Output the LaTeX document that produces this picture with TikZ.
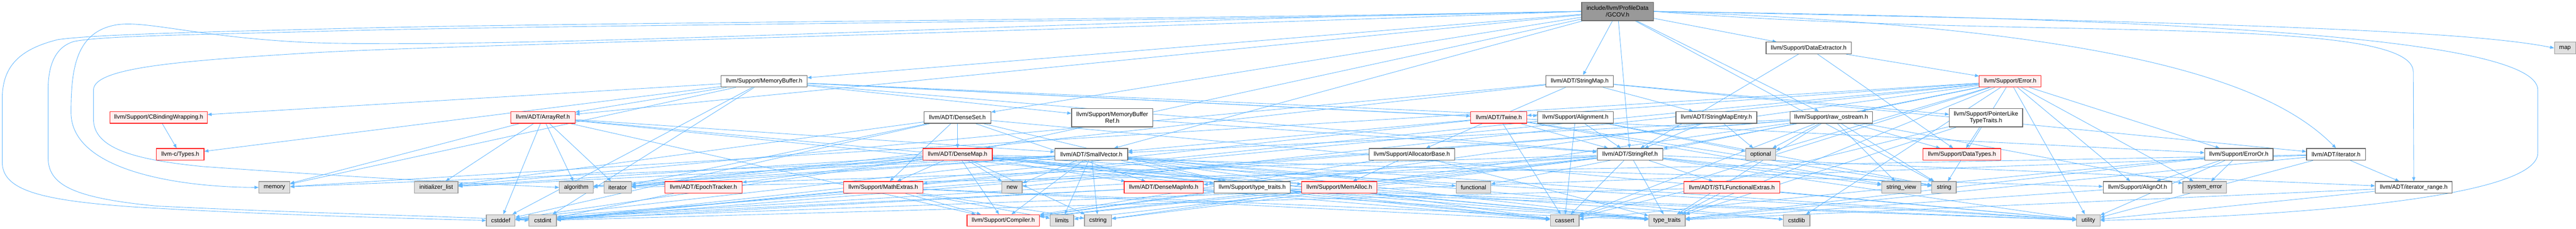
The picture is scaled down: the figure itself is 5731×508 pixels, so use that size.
\documentclass[tikz,border=0pt]{standalone}
\usepackage{fontspec}
\setmainfont{Liberation Sans}
\usetikzlibrary{arrows.meta}
\definecolor{edgec}{HTML}{63B8FF}
\definecolor{redb}{HTML}{FF2020}
\definecolor{redf}{HTML}{FFF0F0}
\definecolor{grayf}{HTML}{E0E0E0}
\definecolor{grayb}{HTML}{999999}
\definecolor{whiteb}{HTML}{666666}
\definecolor{rootf}{HTML}{999999}
\pgfdeclarelayer{back}
\pgfdeclarelayer{bg}
\pgfsetlayers{back,bg,main}
\begin{document}
\begin{tikzpicture}[x=1pt,y=-1pt,
  nbox/.style={rectangle, draw, line width=1.4pt, inner sep=0pt, minimum height=26pt,
    font=\fontsize{13.2}{15}\selectfont, align=center},
  redn/.style={nbox, draw=redb, fill=redf},
  whn/.style={nbox, draw=whiteb, fill=white},
  grn/.style={nbox, draw=grayb, fill=grayf},
  rootn/.style={nbox, draw=whiteb, fill=rootf, minimum height=41pt},
  dep/.style={draw=edgec, line width=1pt, -{Triangle[length=9pt,width=7pt]}}]
\begin{pgfonlayer}{back}
\fill[white] (0,0) rectangle (5731,508);
\end{pgfonlayer}
\useasboundingbox (0,0) rectangle (5731,508);
% row 0
\node[rootn, minimum width=160pt] (root) at (3598.7,25.3) {include/llvm/ProfileData\\/GCOV.h};
% row 1
\node[whn, minimum width=190pt] (dext) at (4024,106.8) {llvm/Support/DataExtractor.h};
\node[grn, minimum width=47pt] (stdmap) at (5706.5,106.8) {map};
% row 2
\node[whn, minimum width=191pt] (mbuf) at (1700,180.5) {llvm/Support/MemoryBuffer.h};
\node[whn, minimum width=150pt] (smap) at (3514.5,180.5) {llvm/ADT/StringMap.h};
\node[redn, minimum width=137pt] (err) at (4472,180.5) {llvm/Support/Error.h};
% row 3
\node[redn, minimum width=216pt] (cbw) at (353,261) {llvm/Support/CBindingWrapping.h};
\node[redn, minimum width=143pt] (aref) at (1208,261) {llvm/ADT/ArrayRef.h};
\node[whn, minimum width=149pt] (dset) at (2130,261) {llvm/ADT/DenseSet.h};
\node[whn, minimum width=181pt, minimum height=41pt] (mbref) at (2474.5,261.5) {llvm/Support/MemoryBuffer\\Ref.h};
\node[redn, minimum width=125pt] (twine) at (3334.6,261) {llvm/ADT/Twine.h};
\node[whn, minimum width=168pt] (align) at (3505,261) {llvm/Support/Alignment.h};
\node[whn, minimum width=180pt] (smentry) at (3818.5,261) {llvm/ADT/StringMapEntry.h};
\node[whn, minimum width=184pt] (raw) at (4074,261) {llvm/Support/raw\_ostream.h};
\node[whn, minimum width=163pt, minimum height=41pt] (plt) at (4418.3,261.5) {llvm/Support/PointerLike\\TypeTraits.h};
% row 4
\node[redn, minimum width=106pt] (types) at (401,343) {llvm-c/Types.h};
\node[redn, minimum width=154pt] (dmap) at (2130.5,343) {llvm/ADT/DenseMap.h};
\node[whn, minimum width=162pt] (svec) at (2428,343) {llvm/ADT/SmallVector.h};
\node[whn, minimum width=190pt] (alloc) at (3141,343) {llvm/Support/AllocatorBase.h};
\node[whn, minimum width=146pt] (sref) at (3626.5,343) {llvm/ADT/StringRef.h};
\node[grn, minimum width=66pt] (stdopt) at (3917,343) {optional};
\node[redn, minimum width=173pt] (dtypes) at (4365,343) {llvm/Support/DataTypes.h};
\node[whn, minimum width=152pt] (erroror) at (4981,343) {llvm/Support/ErrorOr.h};
\node[whn, minimum width=131pt] (iter) at (5197,343) {llvm/ADT/iterator.h};
% row 5
\node[grn, minimum width=69pt] (stdmem) at (610.5,416.5) {memory};
\node[grn, minimum width=97pt] (stdinit) at (970.5,416.5) {initializer\_list};
\node[grn, minimum width=75pt] (stdalg) at (1282,416.5) {algorithm};
\node[grn, minimum width=61pt] (stditer) at (1374,416.5) {iterator};
\node[redn, minimum width=172pt] (epoch) at (1565,416.5) {llvm/ADT/EpochTracker.h};
\node[redn, minimum width=176pt] (mathx) at (1965,416.5) {llvm/Support/MathExtras.h};
\node[grn, minimum width=45pt] (stdnew) at (2251.5,416.5) {new};
\node[redn, minimum width=176pt] (dminfo) at (2589,416.5) {llvm/ADT/DenseMapInfo.h};
\node[whn, minimum width=170pt] (stypetr) at (2786,416.5) {llvm/Support/type\_traits.h};
\node[redn, minimum width=167pt] (memalloc) at (2979.7,416.5) {llvm/Support/MemAlloc.h};
\node[grn, minimum width=77pt] (stdfunc) at (3278,416.5) {functional};
\node[redn, minimum width=213pt] (stlfe) at (3853,416.5) {llvm/ADT/STLFunctionalExtras.h};
\node[grn, minimum width=87pt] (stdsv) at (4230,416.5) {string\_view};
\node[grn, minimum width=54pt] (stdstr) at (4325,416.5) {string};
\node[whn, minimum width=153pt] (alignof) at (4755.6,416.5) {llvm/Support/AlignOf.h};
\node[grn, minimum width=97pt] (stdse) at (4905,416.5) {system\_error};
\node[whn, minimum width=171pt] (irange) at (5370,416.5) {llvm/ADT/iterator\_range.h};
% row 6
\node[grn, minimum width=64pt] (stdcdef) at (1114,490) {cstddef};
\node[grn, minimum width=61pt] (stdcint) at (1207.5,490) {cstdint};
\node[redn, minimum width=161pt] (compiler) at (2232,490) {llvm/Support/Compiler.h};
\node[grn, minimum width=52pt] (stdlim) at (2362.7,490) {limits};
\node[grn, minimum width=60pt] (stdcstr) at (2442.6,490) {cstring};
\node[grn, minimum width=64pt] (stdcas) at (3481,490) {cassert};
\node[grn, minimum width=81pt] (stdtt) at (3708.7,490) {type\_traits};
\node[grn, minimum width=59pt] (stdclib) at (3997,490) {cstdlib};
\node[grn, minimum width=52pt] (stdutil) at (4646,490) {utility};

\begin{pgfonlayer}{bg}
% root
\foreach \t in {aref,dmap,dset,svec,smap,sref,dext,mbuf,raw,stdstr} \draw[dep] (root) -- (\t);
\draw[dep] (root.east) .. controls (5000,50) and (5500,70) .. (stdmap.west);
\draw[dep] (root.east) .. controls (4700,60) and (5050,180) .. (iter.north);
\draw[dep] (root.east) .. controls (4500,90) and (5369,30) .. (5369,160) -- (irange.north);
\draw[dep] (root.east) .. controls (4800,40) and (5646,80) .. (5646,200) -- (5646,340) .. controls (5646,440) and (5100,480) .. (stdutil.east);
\draw[dep] (root.west) .. controls (2500,40) and (1200,110) .. (700,95) .. controls (450,85) and (330,45) .. (260,55) .. controls (170,70) and (158,150) .. (158,250) .. controls (158,380) and (400,416) .. (stdmem.west);
\draw[dep] (root.west) .. controls (2000,80) and (1000,100) .. (700,117) .. controls (400,135) and (208,150) .. (208,200) -- (208,265) .. controls (208,330) and (300,355) .. (450,370) .. controls (800,395) and (1100,410) .. (stdalg.west);
\draw[dep] (root.west) .. controls (2500,45) and (1200,50) .. (700,65) .. controls (400,72) and (200,78) .. (129,88) .. controls (40,110) and (5,150) .. (5,220) -- (5,360) .. controls (5,420) and (80,445) .. (300,460) .. controls (600,478) and (900,485) .. (stdcdef.west);
\draw[dep] (root.west) .. controls (2500,50) and (1200,55) .. (700,70) .. controls (400,78) and (230,80) .. (165,92) .. controls (120,105) and (107,150) .. (107,200) -- (107,350) .. controls (107,410) and (160,440) .. (350,458) .. controls (700,475) and (1000,480) .. (stdcint.west);
% others
\foreach \t in {types,aref,sref,twine,align,cbw,erroror,mbref,stdcdef,stdcint,stdmem} \draw[dep] (mbuf) -- (\t);
\foreach \t in {smentry,iter,alloc,plt,stdinit,stditer} \draw[dep] (smap) -- (\t);
\foreach \t in {twine,alignof,compiler,erroror,raw,stdcas,stdcint,stdclib,stdfunc,stdmem,stdnew,stdopt,stdstr,stdse,stdtt,stdutil} \draw[dep] (err) -- (\t);
\foreach \t in {sref,dtypes,err} \draw[dep] (dext) -- (\t);
\foreach \t in {svec,compiler,stdalg,stdcas,stdcdef,stdinit,stditer,stdmem,stdtt} \draw[dep] (aref) -- (\t);
\foreach \t in {dmap,dminfo,mathx,stypetr,stdcdef,stdinit,stditer,stdutil} \draw[dep] (dset) -- (\t);
\foreach \t in {dminfo,epoch,alignof,compiler,mathx,memalloc,stypetr,stdalg,stdcas,stdcdef,stdcstr,stdinit,stditer,stdnew,stdtt,stdutil} \draw[dep] (dmap) -- (\t);
\foreach \t in {compiler,stypetr,stdalg,stdcas,stdcdef,stdclib,stdcstr,stdfunc,stdinit,stditer,stdlim,stdmem,stdnew,stdtt,stdutil} \draw[dep] (svec) -- (\t);
\draw[dep] (mbref) -- (sref);
\foreach \t in {svec,sref,stdcas,stdcint,stdstr,stdsv} \draw[dep] (twine) -- (\t);
\foreach \t in {sref,mathx,stdcas,stdopt,stdstr} \draw[dep] (align) -- (\t);
\foreach \t in {sref,stdopt} \draw[dep] (smentry) -- (\t);
\foreach \t in {svec,sref,dtypes,stdcas,stdcdef,stdcint,stdcstr,stdopt,stdstr,stdsv,stdse,stdtt} \draw[dep] (raw) -- (\t);
\foreach \t in {dtypes,stdcas,stdtt} \draw[dep] (plt) -- (\t);
\foreach \t in {compiler,memalloc,stdtt} \draw[dep] (alloc) -- (\t);
\foreach \t in {dminfo,stlfe,irange,compiler,stdalg,stdcas,stdcdef,stdcstr,stdlim,stdstr,stdsv,stdtt,stdutil} \draw[dep] (sref) -- (\t);
\foreach \t in {alignof,stdcas,stdse,stdtt,stdutil} \draw[dep] (erroror) -- (\t);
\foreach \t in {irange,stdcdef,stditer,stdtt,stdutil} \draw[dep] (iter) -- (\t);
\foreach \t in {stdtt,stdutil} \draw[dep] (irange) -- (\t);
\draw[dep] (alignof) -- (stdtt);
\foreach \t in {compiler,stdtt,stdutil} \draw[dep] (stypetr) -- (\t);
\foreach \t in {compiler,stdcas,stdcint,stdcstr,stdlim,stdtt} \draw[dep] (mathx) -- (\t);
\foreach \t in {stdcas,stdcdef,stdcint,stdtt,stdutil} \draw[dep] (dminfo) -- (\t);
\draw[dep] (epoch) -- (stdcint);
\foreach \t in {compiler,stdclib} \draw[dep] (memalloc) -- (\t);
\foreach \t in {stdcint,stdtt,stdutil} \draw[dep] (stlfe) -- (\t);
\draw[dep] (cbw) -- (types);
\end{pgfonlayer}
\end{tikzpicture}
\end{document}
